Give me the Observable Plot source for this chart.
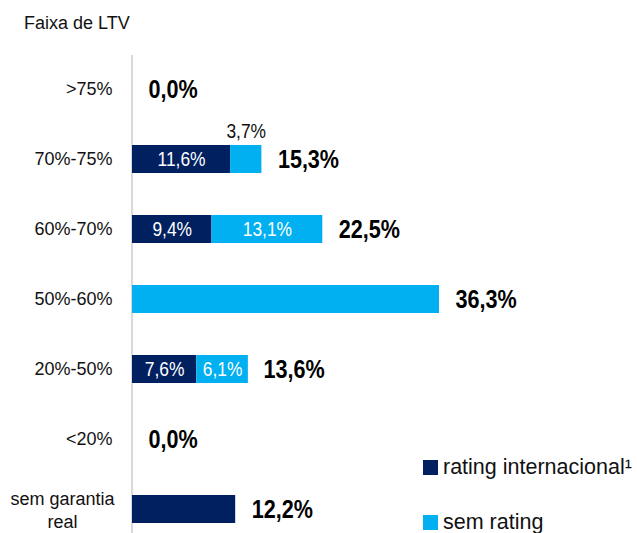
<!DOCTYPE html>
<html>
<head>
<meta charset="utf-8">
<script src="https://cdn.jsdelivr.net/npm/d3@7"></script>
<script src="https://cdn.jsdelivr.net/npm/@observablehq/plot@0.6"></script>
<style>
  html, body { margin: 0; padding: 0; background: #fff; }
  body { width: 637px; height: 533px; position: relative; overflow: hidden;
         font-family: 'Liberation Sans',Arial,sans-serif; }
  #title { height: 40px; box-sizing: border-box; padding-left: 24px; padding-top: 14px;
           font-size: 18px; line-height: 18px; color: #111; }
  .leg { position: absolute; left: 423px; font-size: 21.5px; line-height: 21px; color: #111; white-space: nowrap; }
  .leg span.sw { display: inline-block; width: 15px; height: 15px; margin-right: 5px; vertical-align: -1px; }
</style>
</head>
<body>
<div id="title">Faixa de LTV</div>
<div id="chart"></div>
<div class="leg" style="top:457px"><span class="sw" style="background:#002060"></span>rating internacional¹</div>
<div class="leg" style="top:512px"><span class="sw" style="background:#00B0F0"></span>sem rating</div>
<script>
const categories = [">75%", "70%-75%", "60%-70%", "50%-60%", "20%-50%", "<20%", "sem garantia real"];
const ratingInternacional = [0, 11.6, 9.4, 0, 7.6, 0, 12.2];
const semRating = [0, 3.7, 13.1, 36.3, 6.1, 0, 0];
const totals = [0, 15.3, 22.5, 36.3, 13.6, 0, 12.2];
const seriesNames = ["rating internacional", "sem rating"];
const seriesColors = ["#002060", "#00B0F0"];

const fmt = v => v.toFixed(1).replace(".", ",") + "%";
const F = "'Liberation Sans',Arial,sans-serif";

const segs = [];
categories.forEach((c, i) => {
  const a = ratingInternacional[i], b = semRating[i];
  const both = a > 0 && b > 0;
  if (a > 0) segs.push({cat: c, series: seriesNames[0], x1: 0, x2: a, v: a, show: both});
  if (b > 0) segs.push({cat: c, series: seriesNames[1], x1: a, x2: a + b, v: b, show: both});
});
const inside = segs.filter(d => d.show && d.v >= 5);
const above = segs.filter(d => d.show && d.v < 5);
const tots = categories.map((c, i) => ({cat: c, t: totals[i]}));
const ticks = categories.map(c => ({cat: c, label: c === "sem garantia real" ? "sem garantia\nreal" : c}));

const chart = Plot.plot({
  width: 637,
  height: 493,
  marginTop: 15,
  marginBottom: 0,
  marginLeft: 0,
  marginRight: 0,
  style: {fontFamily: F, overflow: "visible"},
  x: {domain: [0, 36.3], range: [132, 439], axis: null},
  y: {type: "band", domain: categories, range: [14, 504], paddingInner: 0.6, paddingOuter: 0.3, axis: null},
  color: {domain: seriesNames, range: seriesColors},
  marks: [
    Plot.ruleX([0], {stroke: "#d9d9d9", strokeWidth: 2, dx: -0.5}),
    Plot.barX(segs, {y: "cat", x1: "x1", x2: "x2", fill: "series"}),
    Plot.text(inside, {y: "cat", x: d => (d.x1 + d.x2) / 2, text: d => fmt(d.v), fill: "white", fontSize: 20, className: "seg"}),
    Plot.text(above, {y: "cat", x: d => (d.x1 + d.x2) / 2, text: d => fmt(d.v), fill: "#111", fontSize: 20, dy: -28, className: "seg"}),
    Plot.text(tots, {y: "cat", x: "t", text: d => fmt(d.t), textAnchor: "start", dx: 16, fontSize: 26, fontWeight: "bold", fill: "#000", className: "tot"}),
    Plot.text(ticks.filter(d => !d.label.includes("\n")), {y: "cat", x: 0, text: "label", textAnchor: "end", dx: -20, fontSize: 18, fill: "#111"}),
    Plot.text(ticks.filter(d => d.label.includes("\n")), {y: "cat", x: 0, text: "label", textAnchor: "middle", dx: -70, fontSize: 18, lineHeight: 1.25, fill: "#111"})
  ]
});
// condense the label glyphs horizontally (narrow typeface look) around each anchor
chart.querySelectorAll(".tot text").forEach(t => t.setAttribute("transform", (t.getAttribute("transform") || "") + " scale(0.83,1)"));
chart.querySelectorAll(".seg text").forEach(t => t.setAttribute("transform", (t.getAttribute("transform") || "") + " scale(0.87,1)"));
document.getElementById("chart").appendChild(chart);
</script>
</body>
</html>
